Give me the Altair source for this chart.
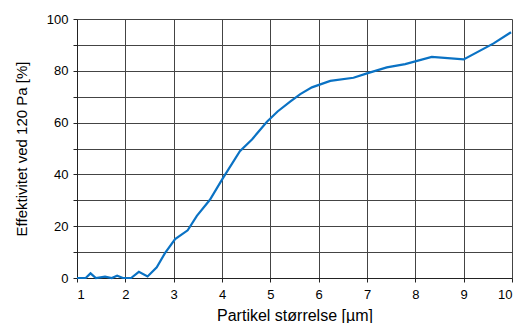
import altair as alt
import pandas as pd

partikel = [1.0, 1.18, 1.28, 1.39, 1.58, 1.72, 1.83, 1.95, 2.12, 2.28, 2.46, 2.65, 2.82,
            3.03, 3.29, 3.48, 3.75, 4.0, 4.37, 4.62, 4.93, 5.15, 5.41, 5.62, 5.86, 6.24,
            6.72, 7.0, 7.41, 7.79, 8.34, 9.0, 9.62, 9.98]
effekt = [0.0, 0.0, 1.8, 0.0, 0.5, 0.0, 0.9, 0.0, 0.0, 2.4, 0.6, 4.1, 9.6,
          15.0, 18.4, 24.0, 30.2, 38.0, 49.0, 53.5, 60.3, 64.3, 68.1, 71.0, 73.6, 76.1,
          77.3, 79.0, 81.3, 82.6, 85.4, 84.4, 90.6, 94.9]

x_ticks = list(range(1, 11))
y_ticks = list(range(0, 101, 10))

df = pd.DataFrame({"x": partikel, "y": effekt})

font = "Liberation Sans"

chart = alt.Chart(df).mark_line(color="#0a72c4", strokeWidth=2.2).encode(
    x=alt.X("x:Q", scale=alt.Scale(domain=[1, 10], nice=False),
            axis=alt.Axis(title="Partikel størrelse [µm]", values=x_ticks,
                          tickSize=4, labelPadding=6,
                          titleFontSize=16, titleBaseline="alphabetic",
                          titleY=42)),
    y=alt.Y("y:Q", scale=alt.Scale(domain=[0, 100], nice=False),
            axis=alt.Axis(title="Effektivitet ved 120 Pa [%]", values=y_ticks,
                          labelExpr="datum.value % 20 == 0 ? datum.label : ''",
                          tickSize=4, labelPadding=5,
                          titleFontSize=15, titleBaseline="alphabetic",
                          titleX=-51)),
).properties(
    width=435, height=259,
    autosize=alt.AutoSizeParams(type="none"),
    padding={"left": 69, "top": 11, "right": 5, "bottom": 50},
).configure_axis(
    grid=True, gridColor="#444444", gridWidth=1, gridOpacity=1,
    domainColor="#222222", tickColor="#222222",
    labelFont=font, titleFont=font, labelFontSize=13,
    labelColor="#000000", titleColor="#000000", titleFontWeight="normal",
).configure_view(stroke=None)

chart.save("out.html", embed_options={"renderer": "svg", "actions": False})
